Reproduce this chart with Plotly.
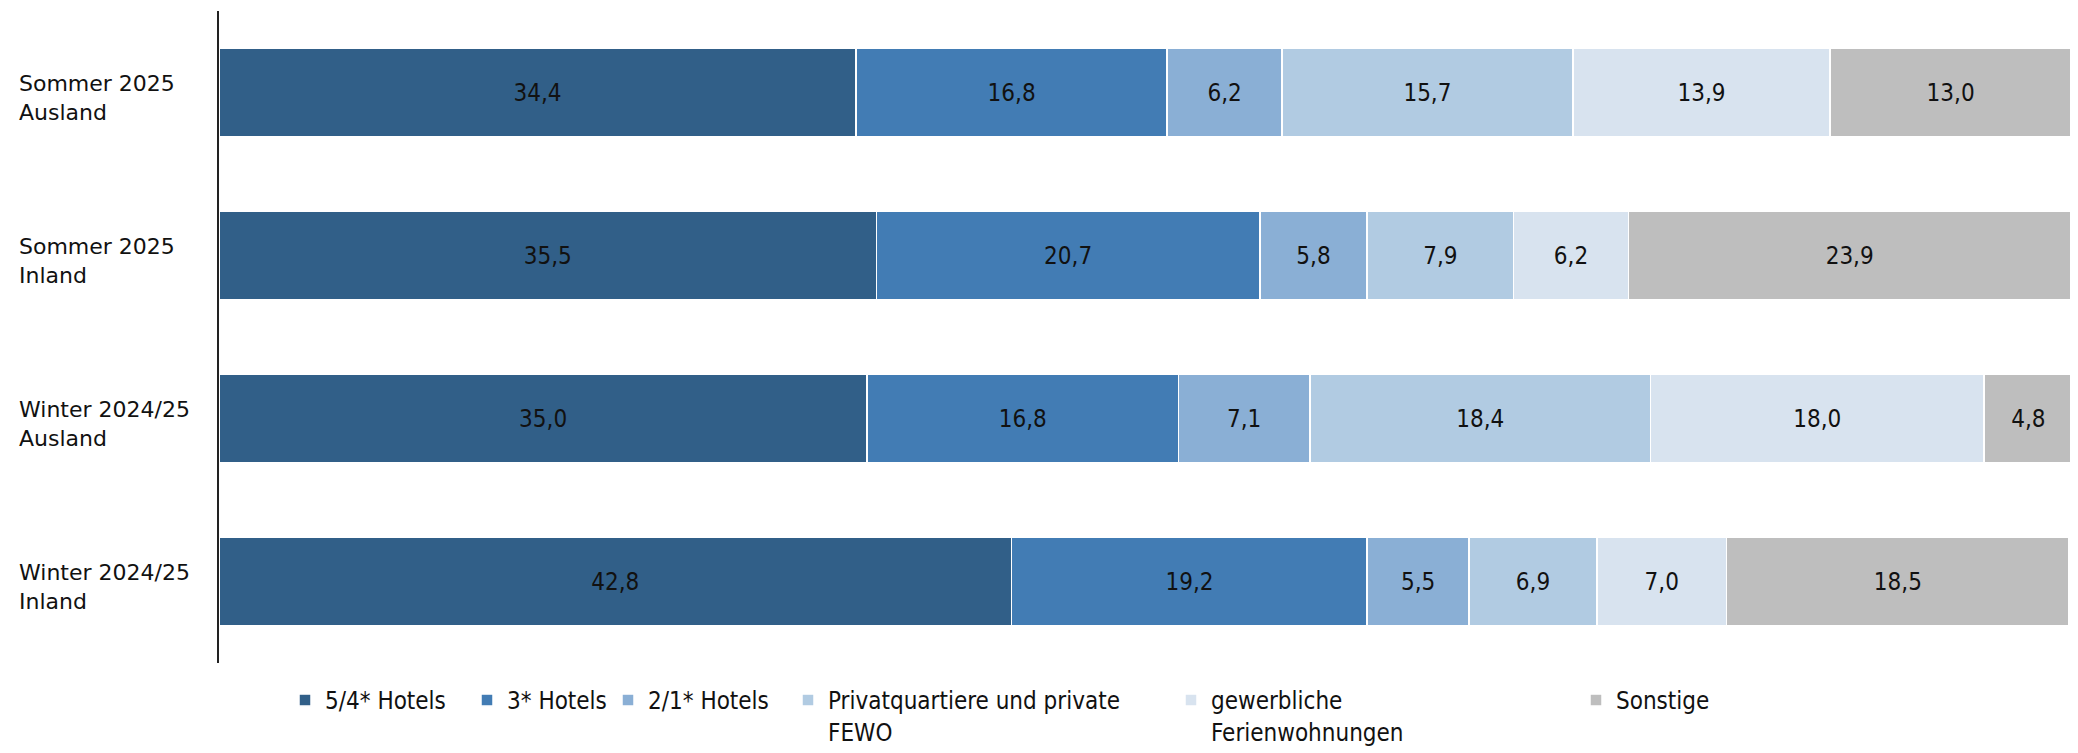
import plotly.graph_objects as go

# Kategorien (von oben nach unten)
categories = ["Sommer 2025<br>Ausland", "Sommer 2025<br>Inland",
              "Winter 2024/25<br>Ausland", "Winter 2024/25<br>Inland"]

series_names = ["5/4* Hotels", "3* Hotels", "2/1* Hotels",
                "Privatquartiere und private<br>FEWO",
                "gewerbliche<br>Ferienwohnungen", "Sonstige"]

hotels_54 = [34.4, 35.5, 35.0, 42.8]
hotels_3 = [16.8, 20.7, 16.8, 19.2]
hotels_21 = [6.2, 5.8, 7.1, 5.5]
privat = [15.7, 7.9, 18.4, 6.9]
gewerblich = [13.9, 6.2, 18.0, 7.0]
sonstige = [13.0, 23.9, 4.8, 18.5]

colors = ["#315F88", "#427CB4", "#8AAFD5", "#B1CBE2", "#D8E3EF", "#BEBEBE"]

# page body has an 8px margin, so the figure is a bit smaller
W, H = 2070, 745
ml, mr, mt, mb = 211, 7, 3, 90
pw = W - ml - mr

# legend left edges in pixels (figure coords)
legend_px = [277, 459, 600, 780, 1163, 1568]
legend_font = dict(family="DejaVu Sans Condensed", size=24, color="#111111")

fig = go.Figure()
all_vals = [hotels_54, hotels_3, hotels_21, privat, gewerblich, sonstige]
layout_legends = {}
for i, (name, vals, col) in enumerate(zip(series_names, all_vals, colors)):
    lg = "legend" if i == 0 else f"legend{i+1}"
    fig.add_bar(
        y=categories, x=vals, orientation="h", name=name,
        marker=dict(color=col, line=dict(color="white", width=1.5)),
        texttemplate="%{x:.1f}", textposition="inside", insidetextanchor="middle",
        textfont=dict(family="DejaVu Sans Condensed", size=24, color="#111111"),
        legend=lg,
    )
    layout_legends[lg] = dict(
        x=(legend_px[i] - ml) / pw, y=-0.023, xanchor="left", yanchor="top",
        orientation="h", font=legend_font, valign="top",
        bgcolor="rgba(0,0,0,0)", itemwidth=30,
    )

for cat in categories:
    fig.add_annotation(
        x=0, xref="paper", xshift=-ml + 9, xanchor="left", y=cat, yref="y",
        yshift=-5, text=cat, showarrow=False, align="left",
        font=dict(family="DejaVu Sans", size=22, color="#111111"),
    )

fig.update_layout(
    barmode="stack", bargap=0.46,
    width=W, height=H,
    margin=dict(l=ml, r=mr, t=mt, b=mb, autoexpand=False),
    plot_bgcolor="white", paper_bgcolor="white",
    separators=",.",
    showlegend=True,
    uniformtext=dict(mode=False),
    **layout_legends,
)
fig.update_xaxes(range=[0, 100], showgrid=False, showticklabels=False, zeroline=False)
fig.update_yaxes(categoryorder="array", categoryarray=categories, autorange="reversed",
                 showticklabels=False, showgrid=False, showline=True,
                 linecolor="#222222", linewidth=2)

fig.write_html("out.html")
